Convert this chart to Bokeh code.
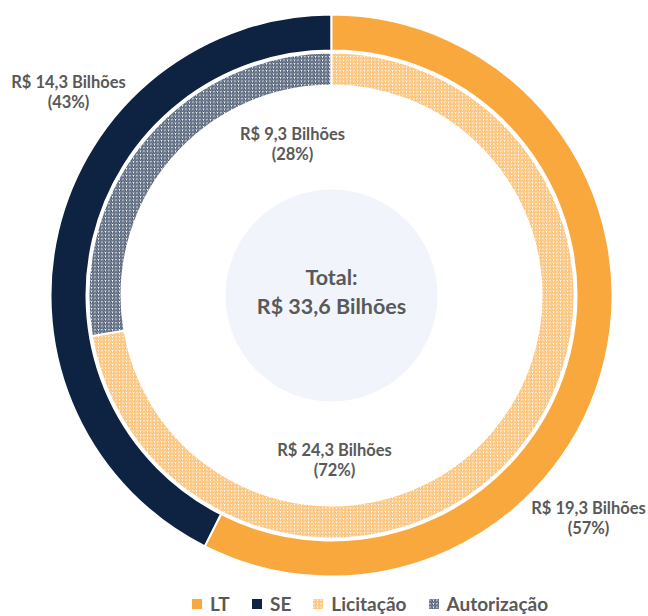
import math
from bokeh.plotting import figure
from bokeh.models import Legend, LegendItem
from bokeh.core.properties import value
from bokeh.embed import file_html
from bokeh.resources import INLINE

# ---- data ----
outer_names = ["SE", "LT"]
outer_values = [14.3, 19.3]
outer_labels = ["R$ 14,3 Bilhões", "R$ 19,3 Bilhões"]
outer_pcts = ["(43%)", "(57%)"]

inner_names = ["Autorização", "Licitação"]
inner_values = [9.3, 24.3]
inner_labels = ["R$ 9,3 Bilhões", "R$ 24,3 Bilhões"]
inner_pcts = ["(28%)", "(72%)"]

total_label = ["Total:", "R$ 33,6 Bilhões"]

ORANGE = "#F9A83D"
NAVY = "#0E2242"
GRAY = "#595959"

W, H = 648, 616
CX, CY = 331, H - 295

p = figure(width=W, height=H, x_range=(0, W), y_range=(0, H),
           output_backend="svg", toolbar_location=None, min_border=0)
p.axis.visible = False
p.grid.visible = False
p.outline_line_color = None
p.background_fill_color = "white"


def angles(vals):
    tot = sum(vals)
    start = math.pi / 2
    out = []
    for v in vals:
        end = start + 2 * math.pi * v / tot
        out.append((start, end))
        start = end
    return out

# outer ring
oa = angles(outer_values)
outer_r = {}
for (s, e), name in zip(oa, outer_names):
    col = NAVY if name == "SE" else ORANGE
    outer_r[name] = p.annular_wedge(x=CX, y=CY, inner_radius=245, outer_radius=281,
                                    start_angle=s, end_angle=e, direction="anticlock",
                                    fill_color=col, line_color="white", line_width=2)

# inner ring (hatched)
ia = angles(inner_values)
inner_r = {}
for (s, e), name in zip(ia, inner_names):
    col = NAVY if name == "Autorização" else ORANGE
    inner_r[name] = p.annular_wedge(x=CX, y=CY, inner_radius=210, outer_radius=243,
                                    start_angle=s, end_angle=e, direction="anticlock",
                                    fill_color="white", hatch_pattern="/",
                                    hatch_color=col, hatch_scale=3.5, hatch_weight=1.2,
                                    hatch_alpha=0.8,
                                    line_color="white", line_width=2)

# center circle
p.circle(x=CX, y=CY, radius=106, fill_color="#F1F5FB", line_color=None)

font = value("Lato")

def label(x, y, lines, size="16.5px", gap=20):
    n = len(lines)
    ys = [y + gap * (n - 1) / 2 - i * gap for i in range(n)]
    p.text(x=[x] * n, y=ys, text=lines, text_font=font, text_font_style="bold",
           text_font_size=size, text_color=GRAY, text_align="center",
           text_baseline="middle")

label(68, H - 91, [outer_labels[0], outer_pcts[0]])
label(588, H - 517, [outer_labels[1], outer_pcts[1]])
label(292, H - 143, [inner_labels[0], inner_pcts[0]])
label(334, H - 459, [inner_labels[1], inner_pcts[1]])
label(331, H - 291, total_label, size="21.5px", gap=29)

legend = Legend(items=[
    LegendItem(label="LT", renderers=[outer_r["LT"]]),
    LegendItem(label="SE", renderers=[outer_r["SE"]]),
    LegendItem(label="Licitação", renderers=[inner_r["Licitação"]]),
    LegendItem(label="Autorização", renderers=[inner_r["Autorização"]]),
], orientation="horizontal", location=(189, 1),
    label_text_font="Lato", label_text_font_style="bold", label_text_font_size="19px",
    label_text_color=GRAY, glyph_width=15, glyph_height=15, spacing=19,
    label_standoff=6, background_fill_alpha=0, border_line_color=None,
    padding=0, margin=0)
p.add_layout(legend, "center")

open("out.html", "w").write(file_html(p, INLINE))
